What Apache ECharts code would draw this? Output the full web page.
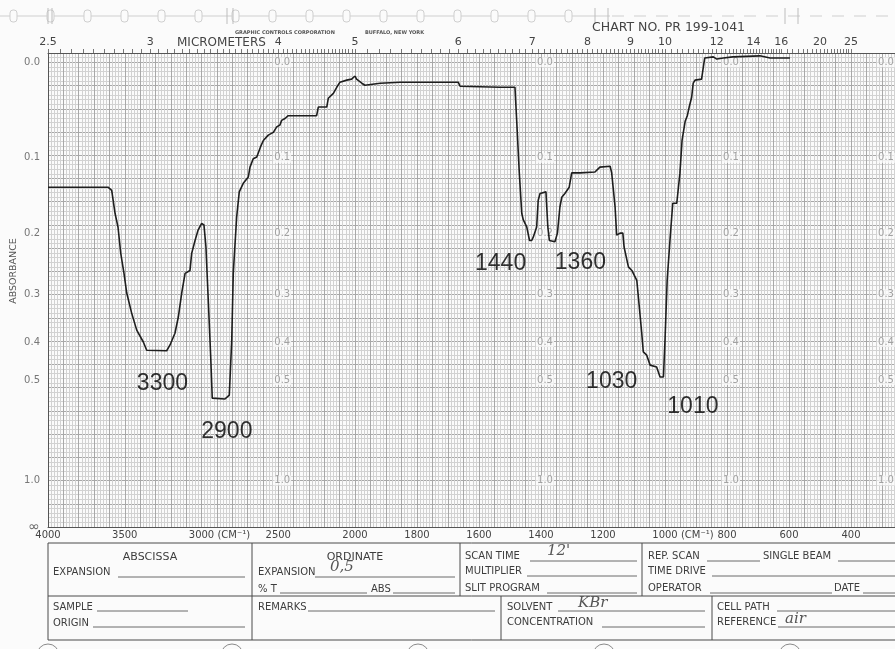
<!DOCTYPE html>
<html>
<head>
<meta charset="utf-8">
<title>IR spectrum</title>
<style>
  html, body { margin: 0; padding: 0; background: #fbfbfb; }
  #chart { width: 895px; height: 649px; }
</style>
<script src="https://cdn.jsdelivr.net/npm/echarts@6/dist/echarts.min.js"></script>
</head>
<body>
<div id="chart"></div>
<script>
// ---- spectrum: wavenumber (cm-1) and absorbance ----
const wavenumber = [
  4000, 3609, 3585, 3563, 3544, 3526, 3505, 3487, 3455, 3422, 3379, 3357,
  3227, 3205, 3173, 3151, 3129, 3107, 3075, 3064, 3042, 3023, 2999, 2984,
  2971, 2956, 2940, 2930, 2847, 2819, 2803, 2793, 2771, 2754, 2728, 2695,
  2684, 2663, 2640, 2615, 2597, 2565, 2532, 2510, 2489, 2478, 2456, 2435,
  2250, 2239, 2184, 2174, 2141, 2119, 2098, 2054, 2022, 2000,
  1995, 1978, 1968, 1919, 1855, 1667, 1661, 1532, 1484, 1478, 1470, 1462,
  1457, 1446, 1437, 1430, 1425, 1414, 1409, 1403, 1384, 1378, 1373, 1355,
  1347, 1339, 1333, 1323, 1309, 1301, 1274, 1226, 1210, 1177, 1172, 1161,
  1156, 1145, 1136, 1132, 1118, 1107, 1091, 1083, 1075, 1070, 1059, 1048,
  1027, 1016, 1005, 1000, 993, 984, 975, 962, 952, 945, 935, 928,
  922, 914, 909, 903, 882, 872, 866, 844, 833, 812, 781, 694,
  661, 597
];
const absorbance = [
  0.136, 0.136, 0.140, 0.171, 0.190, 0.230, 0.263, 0.298, 0.337, 0.373, 0.400, 0.420,
  0.421, 0.407, 0.380, 0.345, 0.298, 0.263, 0.258, 0.230, 0.210, 0.195, 0.185, 0.187,
  0.220, 0.311, 0.436, 0.557, 0.560, 0.547, 0.396, 0.263, 0.176, 0.142, 0.131, 0.123,
  0.111, 0.101, 0.099, 0.087, 0.080, 0.074, 0.071, 0.065, 0.063, 0.058, 0.056, 0.053,
  0.053, 0.044, 0.044, 0.035, 0.030, 0.024, 0.019, 0.017, 0.016, 0.013,
  0.016, 0.020, 0.022, 0.020, 0.019, 0.019, 0.023, 0.024, 0.024, 0.061, 0.118, 0.171,
  0.180, 0.190, 0.210, 0.210, 0.205, 0.190, 0.153, 0.144, 0.142, 0.190, 0.210, 0.212,
  0.199, 0.162, 0.149, 0.144, 0.136, 0.118, 0.118, 0.117, 0.111, 0.110, 0.118, 0.162,
  0.202, 0.199, 0.199, 0.220, 0.252, 0.258, 0.275, 0.324, 0.380, 0.424, 0.432, 0.458,
  0.463, 0.491, 0.491, 0.396, 0.275, 0.210, 0.157, 0.157, 0.119, 0.080, 0.059, 0.053,
  0.044, 0.034, 0.020, 0.017, 0.016, -0.004, -0.005, -0.005, -0.003, -0.004, -0.005, -0.006,
  -0.004, -0.004
];

// assigned bands
const bandWavenumber = [3300, 2900, 1440, 1360, 1030, 1010];
const bandAbsorbance = [0.42, 0.56, 0.21, 0.212, 0.463, 0.491];

// chart paper scales
const absorbanceTicks = [0, 0.1, 0.2, 0.3, 0.4, 0.5, 1.0, Infinity];
const absorbanceTickLabels = ['0.0', '0.1', '0.2', '0.3', '0.4', '0.5', '1.0', '\u221e'];
const micrometerTicks = [2.5, 3, 4, 5, 6, 7, 8, 9, 10, 12, 14, 16, 20, 25];
const wavenumberTicksHigh = [4000, 3500, 3000, 2500];
const wavenumberTicksLow = [2000, 1800, 1600, 1400, 1200, 1000, 800, 600, 400];
const unitTicks = [3000, 1000];
const scaleColumns = [2500, 1400, 800, 300];

// ---- helpers ----
const SCALE_BREAK = 2000;          // paper doubles its cm-1 scale below 2000
const FONT = 'DejaVu Sans';
const GRID_MAJOR = '#a8a8a8';
const GRID_MINOR = '#d2d2d2';
const INK = '#3d3d3d';

// percent transmittance for an absorbance value
const toT = a => (a === Infinity ? 0 : 100 * Math.pow(10, -a));

const points = wavenumber.map((w, i) => [w, toT(absorbance[i])]);
const highPoints = points.filter(p => p[0] >= SCALE_BREAK);
const lowPoints = points.filter(p => p[0] <= SCALE_BREAK);

// micrometre ruler ticks converted to wavenumber
function ruler(from, to, step) {
  const out = [];
  const n = Math.round((to - from) / step);
  for (let k = 0; k <= n; k++) out.push(1e4 / (from + k * step));
  return out;
}
const rulerHigh = ruler(2.5, 5, 0.05);
const rulerLow = ruler(5, 10, 0.1).concat(ruler(10, 16, 0.2), ruler(16, 25, 0.5));
const microHigh = micrometerTicks.filter(m => m <= 5).map(m => 1e4 / m);
const microLow = micrometerTicks.filter(m => m > 5).map(m => 1e4 / m);

const unitMark = '(CM\u207b\u00b9)';
const bottomRich = {
  ghost: { color: 'transparent', fontSize: 10, fontFamily: FONT },
  unit: { color: '#444', fontSize: 10, fontFamily: FONT }
};
function bottomFormatter(v) {
  return unitTicks.includes(v) ? `{ghost|${unitMark} }${v}{unit| ${unitMark}}` : String(v);
}

function bottomAxis(gridIndex, min, max, interval, labels) {
  return {
    type: 'value', gridIndex, position: 'bottom', min, max, interval, inverse: true,
    axisLine: { show: true, lineStyle: { color: '#555', width: 1 } },
    axisTick: { show: false },
    axisLabel: {
      customValues: labels, margin: 3, color: '#444', fontSize: 10, fontFamily: FONT,
      formatter: bottomFormatter, rich: bottomRich
    },
    splitLine: { show: true, lineStyle: { color: GRID_MAJOR, width: 1 } },
    minorTick: { show: false, splitNumber: 5 },
    minorSplitLine: { show: true, lineStyle: { color: GRID_MINOR, width: 1 } }
  };
}

function topAxis(gridIndex, min, max, labels, ticks) {
  return {
    type: 'value', gridIndex, position: 'top', min, max, inverse: true,
    axisLine: { show: true, lineStyle: { color: '#555', width: 1 } },
    axisTick: { show: true, customValues: ticks, length: 4, lineStyle: { color: '#777', width: 1 } },
    axisLabel: {
      customValues: labels, margin: 5, color: '#444', fontSize: 11, fontFamily: FONT,
      formatter: v => String(Math.round(1e5 / v) / 10)
    },
    splitLine: { show: false },
    minorSplitLine: { show: false }
  };
}

function transmittanceAxis(gridIndex, labelled) {
  return {
    type: 'value', gridIndex, min: 0, max: 102, interval: 5,
    axisLine: { show: labelled, lineStyle: { color: '#555', width: 1 } },
    axisTick: { show: false },
    axisLabel: labelled ? {
      customValues: absorbanceTicks.map(toT), margin: 8, color: '#777', fontSize: 10, fontFamily: FONT,
      formatter: v => {
        const i = absorbanceTicks.findIndex(a => Math.abs(toT(a) - v) < 1e-6);
        if (i < 0) return '';
        return absorbanceTicks[i] === Infinity ? `{inf|${absorbanceTickLabels[i]}}` : absorbanceTickLabels[i];
      },
      rich: { inf: { fontSize: 14, color: '#666', fontFamily: FONT } }
    } : { show: false },
    splitLine: { show: true, lineStyle: { color: GRID_MAJOR, width: 1 } },
    minorTick: { show: false, splitNumber: 5 },
    minorSplitLine: { show: true, lineStyle: { color: GRID_MINOR, width: 1 } }
  };
}

// repeated absorbance scale printed inside the paper
function scaleColumnSeries(axisIndex, columns) {
  const data = [];
  columns.forEach(c => {
    absorbanceTicks.forEach((a, i) => {
      if (a !== Infinity) data.push([c, toT(a), absorbanceTickLabels[i]]);
    });
  });
  return {
    type: 'scatter', xAxisIndex: axisIndex, yAxisIndex: axisIndex, data, silent: true,
    symbol: 'circle', symbolSize: 1, itemStyle: { color: 'transparent' }, z: 2,
    label: {
      show: true, position: 'inside', offset: [4, 0], formatter: p => p.data[2],
      color: '#8c8c8c', fontSize: 10, fontFamily: FONT,
      backgroundColor: 'rgba(251,251,251,0.9)', padding: [0, 1]
    }
  };
}

// band annotation placement around each marked point
const bandLabelOffset = [[7, 33], [10, 33], [-28, 23], [27, 21], [-44, 15], [31, 30]];
function bandSeries(axisIndex, keep) {
  const data = [];
  bandWavenumber.forEach((w, i) => {
    if (!keep(w)) return;
    data.push({
      value: [w, toT(bandAbsorbance[i])],
      label: { offset: bandLabelOffset[i] }
    });
  });
  return {
    type: 'scatter', xAxisIndex: axisIndex, yAxisIndex: axisIndex, data, silent: true,
    symbol: 'circle', symbolSize: 1, itemStyle: { color: 'transparent' }, z: 6,
    label: {
      show: true, position: 'inside', formatter: p => String(p.value[0]),
      color: '#000', fontSize: 23, fontFamily: 'Liberation Sans'
    }
  };
}

// ---- printed form, header and paper decoration ----
const graphic = [];
function text(str, x, y, o = {}) {
  graphic.push({
    type: 'text', x, y, silent: true, rotation: o.rotation || 0,
    style: {
      text: str, fill: o.color || INK, fontSize: o.size || 10,
      fontFamily: o.family || FONT, fontStyle: o.style || 'normal',
      fontWeight: o.weight || 'normal',
      align: o.align || 'left', verticalAlign: 'middle'
    }
  });
}
function line(x1, y1, x2, y2, color = '#4a4a4a', w = 1) {
  graphic.push({ type: 'line', silent: true, shape: { x1, y1, x2, y2 }, style: { stroke: color, lineWidth: w } });
}

// perforated strip along the top edge
line(0, 16, 610, 16, '#cfcfcf');
for (let x = 612; x < 895; x += 22) line(x, 16, x + 12, 16, '#cfcfcf');
for (let x = 10; x < 600; x += 37) {
  graphic.push({ type: 'rect', silent: true, shape: { x, y: 10, width: 7, height: 12, r: 3 },
    style: { fill: '#fbfbfb', stroke: '#cfcfcf', lineWidth: 1 } });
}
[48, 52, 227, 233, 595, 608, 785, 798].forEach(x => line(x, 8, x, 24, '#bdbdbd'));

text('GRAPHIC CONTROLS CORPORATION', 235, 33, { size: 5, weight: 'bold', color: '#555' });
text('BUFFALO, NEW YORK', 365, 33, { size: 5, weight: 'bold', color: '#555' });
text('CHART NO. PR 199-1041', 592, 28, { size: 12.5, color: '#444' });
text('MICROMETERS', 177, 43, { size: 12, color: '#444' });
text('ABSORBANCE', 14, 271, { size: 9.5, color: '#555', align: 'center', rotation: Math.PI / 2 });

// form boxes
line(48, 543, 895, 543);
line(48, 596, 895, 596);
line(48, 640, 895, 640);
line(48, 543, 48, 640);
line(252, 543, 252, 640);
line(460, 543, 460, 596);
line(642, 543, 642, 596);
line(501, 596, 501, 640);
line(712, 596, 712, 640);

const rule = '#6a6a6a';
text('ABSCISSA', 150, 557, { size: 11, align: 'center' });
text('EXPANSION', 53, 572); line(118, 577, 245, 577, rule);
text('ORDINATE', 355, 557, { size: 11, align: 'center' });
text('EXPANSION', 258, 572); line(315, 577, 455, 577, rule);
text('0,5', 330, 567, { size: 15, family: 'DejaVu Serif', style: 'italic', color: '#555' });
text('% T', 258, 589); line(280, 593, 367, 593, rule);
text('ABS', 371, 589); line(393, 593, 455, 593, rule);
text('SCAN TIME', 465, 556); line(530, 561, 637, 561, rule);
text("12'", 547, 551, { size: 15, family: 'DejaVu Serif', style: 'italic', color: '#555' });
text('MULTIPLIER', 465, 571); line(527, 576, 637, 576, rule);
text('SLIT PROGRAM', 465, 588); line(547, 593, 637, 593, rule);
text('REP. SCAN', 648, 556); line(707, 561, 760, 561, rule);
text('SINGLE BEAM', 763, 556); line(838, 561, 895, 561, rule);
text('TIME DRIVE', 648, 571); line(712, 576, 895, 576, rule);
text('OPERATOR', 648, 588); line(710, 593, 832, 593, rule);
text('DATE', 834, 588); line(863, 593, 895, 593, rule);
text('SAMPLE', 53, 607); line(97, 611, 188, 611, rule);
text('ORIGIN', 53, 623); line(93, 627, 245, 627, rule);
text('REMARKS', 258, 607); line(308, 611, 495, 611, rule);
text('SOLVENT', 507, 607); line(558, 611, 705, 611, rule);
text('KBr', 578, 603, { size: 15, family: 'DejaVu Serif', style: 'italic', color: '#555' });
text('CONCENTRATION', 507, 622); line(602, 627, 705, 627, rule);
text('CELL PATH', 717, 607); line(777, 611, 895, 611, rule);
text('REFERENCE', 717, 622); line(778, 627, 895, 627, rule);
text('air', 785, 619, { size: 15, family: 'DejaVu Serif', style: 'italic', color: '#555' });

// binder holes at the bottom edge
[48, 232, 418, 604, 790].forEach(cx => {
  graphic.push({ type: 'circle', silent: true, shape: { cx, cy: 655, r: 11 },
    style: { fill: 'none', stroke: '#8a8a8a', lineWidth: 1 } });
});

// ---- chart ----
const chart = echarts.init(document.getElementById('chart'), null, { renderer: 'canvas' });
chart.setOption({
  backgroundColor: '#fbfbfb',
  animation: false,
  grid: [
    { left: 48, top: 53, width: 307, height: 474, containLabel: false, outerBoundsMode: 'none' },
    { left: 355, top: 53, width: 558, height: 474, containLabel: false, outerBoundsMode: 'none' }
  ],
  xAxis: [
    bottomAxis(0, SCALE_BREAK, 4000, 100, wavenumberTicksHigh),
    bottomAxis(1, 200, SCALE_BREAK, 50, wavenumberTicksLow),
    topAxis(0, SCALE_BREAK, 4000, microHigh, rulerHigh),
    topAxis(1, 200, SCALE_BREAK, microLow, rulerLow)
  ],
  yAxis: [transmittanceAxis(0, true), transmittanceAxis(1, false)],
  series: [
    scaleColumnSeries(0, scaleColumns.filter(c => c > SCALE_BREAK)),
    scaleColumnSeries(1, scaleColumns.filter(c => c < SCALE_BREAK)),
    {
      type: 'line', xAxisIndex: 0, yAxisIndex: 0, data: highPoints, silent: true,
      symbol: 'none', showSymbol: false, z: 5,
      lineStyle: { color: '#1e1e1e', width: 1.6 }
    },
    {
      type: 'line', xAxisIndex: 1, yAxisIndex: 1, data: lowPoints, silent: true,
      symbol: 'none', showSymbol: false, z: 5,
      lineStyle: { color: '#1e1e1e', width: 1.6 }
    },
    bandSeries(0, w => w > SCALE_BREAK),
    bandSeries(1, w => w < SCALE_BREAK)
  ],
  graphic
});
</script>
</body>
</html>
